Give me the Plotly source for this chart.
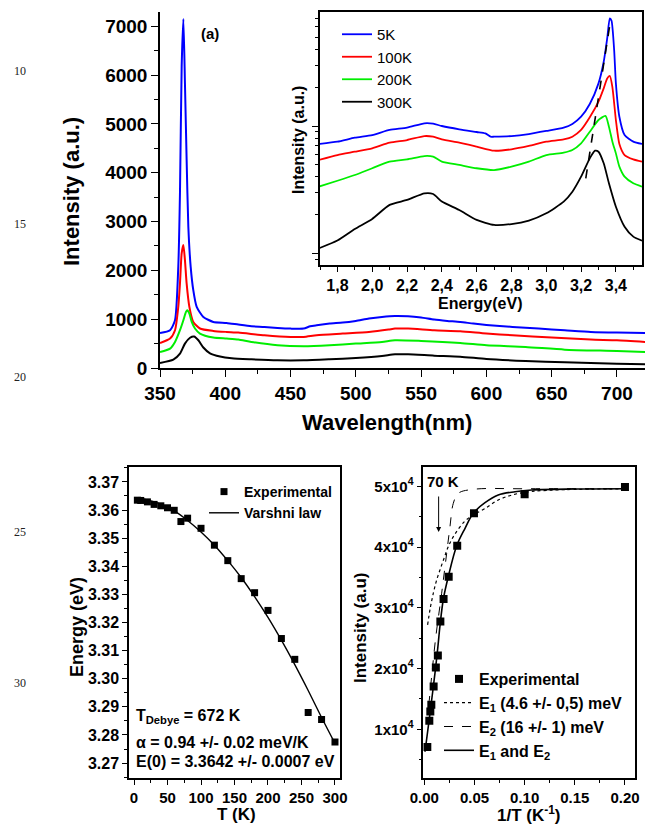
import plotly.graph_objects as go

# ---------------- (a) PL spectra vs wavelength ----------------
wl_5K = [350, 357.7, 361.5, 364.0, 365.3, 366.6, 367.9, 369.1, 370.4, 371.7, 373.5, 375.5, 378.1, 383.2,
         390.8, 401, 410, 420, 430, 440, 450, 460, 465, 470, 480, 490, 500, 510, 520, 530, 540, 550,
         560, 570, 580, 590, 600, 620, 640, 660, 680, 700, 722]
pl_5K = [718, 774, 979, 2073, 3580, 6180, 7150, 5838, 4264, 2895, 2073, 1595, 1252, 1047,
         944, 924, 890, 855, 842, 821, 807, 807, 855, 876, 910, 930, 965, 1013, 1047, 1067, 1060, 1033,
         992, 965, 944, 910, 883, 842, 807, 773, 739, 725, 718]

wl_100K = [350, 357.7, 361.5, 364.0, 365.3, 366.6, 367.9, 369.1, 370.4, 372.5, 375.5, 380.6, 390.8, 401,
           410, 430, 450, 460, 470, 490, 510, 525, 530, 540, 560, 580, 600, 620, 650, 680, 700, 722]
pl_100K = [513, 603, 774, 1252, 1732, 2348, 2519, 2211, 1732, 1252, 944, 809, 760, 739,
           725, 671, 636, 636, 671, 705, 739, 787, 807, 807, 773, 753, 705, 671, 623, 582, 568, 534]

wl_200K = [350, 357.7, 361.5, 365.3, 367.9, 369.9, 370.9, 372.5, 374.3, 376.8, 380.6, 390.8, 401,
           410, 420, 440, 460, 480, 500, 520, 530, 550, 580, 600, 630, 660, 700, 722]
pl_200K = [328, 398, 534, 774, 979, 1150, 1185, 1116, 944, 809, 706, 624, 603,
           582, 534, 465, 445, 465, 500, 534, 568, 554, 513, 465, 431, 376, 349, 328]

wl_300K = [350, 360.2, 365.3, 369.1, 373.0, 376.1, 379.4, 383.2, 388.3, 396, 405, 420, 440, 460, 480,
           500, 520, 530, 540, 560, 580, 600, 630, 660, 700, 722]
pl_300K = [103, 171, 294, 500, 620, 645, 568, 420, 300, 235, 200, 178, 157, 157, 178,
           205, 246, 281, 281, 253, 233, 185, 144, 116, 89, 75]

# ---------------- inset: spectra vs energy (log intensity) ----------------
ev_5K = [1.693, 1.8, 1.9, 2.0, 2.1, 2.2, 2.3, 2.35, 2.4, 2.5, 2.6, 2.65, 2.68, 2.7, 2.8, 2.9, 3.0, 3.1,
         3.15, 3.2, 3.25, 3.3, 3.33, 3.35, 3.365, 3.375, 3.39, 3.4, 3.42, 3.45, 3.5, 3.55]
in_5K = [7228, 7534, 8091, 8492, 9311, 9705, 10495, 10423, 10000, 9419, 8974, 8750, 8241, 8241, 8337,
         8650, 9141, 9705, 10375, 11830, 14894, 21627, 31989, 48753, 70146, 67143, 39537, 21627, 11830,
         8492, 7534, 7228]

ev_100K = [1.693, 1.8, 1.9, 2.0, 2.1, 2.2, 2.3, 2.35, 2.4, 2.5, 2.6, 2.7, 2.8, 2.9, 3.0, 3.1, 3.15, 3.2,
           3.25, 3.3, 3.33, 3.35, 3.365, 3.38, 3.4, 3.42, 3.45, 3.5, 3.55]
in_100K = [5408, 5916, 6281, 6683, 7396, 7762, 8337, 8241, 7852, 7396, 6887, 6397, 6561, 6966, 7534,
           7852, 8241, 9311, 11695, 15524, 19770, 23659, 24717, 20137, 11143, 7228, 5916, 5470, 5248]

ev_200K = [1.693, 1.8, 1.9, 2.0, 2.1, 2.2, 2.3, 2.35, 2.4, 2.5, 2.6, 2.7, 2.8, 2.9, 3.0, 3.1, 3.15, 3.2,
           3.25, 3.3, 3.34, 3.36, 3.38, 3.4, 3.42, 3.45, 3.5, 3.55]
in_200K = [3342, 3715, 4121, 4656, 5248, 5470, 5808, 5741, 5248, 4943, 4656, 4508, 4797, 5248, 5916,
           6180, 6486, 7311, 9016, 11143, 11995, 9886, 7534, 6095, 4797, 3999, 3548, 3342]

ev_300K = [1.693, 1.8, 1.9, 2.0, 2.1, 2.2, 2.3, 2.35, 2.4, 2.5, 2.6, 2.7, 2.8, 2.9, 3.0, 3.1, 3.15, 3.2,
           3.25, 3.28, 3.3, 3.33, 3.36, 3.4, 3.45, 3.5, 3.55]
in_300K = [1094, 1259, 1549, 1862, 2399, 2624, 2958, 2924, 2547, 2188, 1828, 1671, 1698, 1807, 2061,
           2547, 3048, 3999, 5572, 6397, 6281, 5093, 3548, 2323, 1618, 1352, 1256]

peak_ev = [3.227, 3.371]
peak_in = [3882, 70146]

# ---------------- Varshni plot ----------------
T_exp = [5, 10, 20, 30, 40, 50, 60, 70, 80, 100, 120, 140, 160, 180, 200, 220, 240, 260, 280, 300]
E_exp = [3.3635, 3.3634, 3.3629, 3.3620, 3.3615, 3.3608, 3.3599, 3.3559, 3.3571, 3.3535, 3.3475,
         3.3420, 3.3356, 3.3306, 3.3243, 3.3143, 3.3069, 3.2880, 3.2855, 3.2775]
T_fit = [5, 20, 40, 60, 80, 100, 120, 140, 160, 180, 200, 220, 240, 260, 280, 300]
E_fit = [3.3642, 3.3636, 3.3621, 3.3597, 3.3563, 3.3522, 3.3475, 3.3420, 3.3360, 3.3292, 3.3218,
         3.3137, 3.3050, 3.2958, 3.2862, 3.2770]

# ---------------- Arrhenius plot ----------------
invT_exp = [0.0030, 0.0050, 0.0060, 0.0070, 0.0093, 0.0115, 0.0135, 0.0160, 0.0192, 0.0243, 0.0328,
            0.0495, 0.1000, 0.2000]
I_exp = [7070, 11400, 12930, 14030, 17040, 20165, 22140, 27730, 31460, 35130, 40230, 45560, 48680, 49900]
fit_both_x = [0.0007, 0.0047, 0.0067, 0.009, 0.0113, 0.0135, 0.0156, 0.019, 0.0239, 0.0323, 0.0406,
              0.0488, 0.0605, 0.0737, 0.0904, 0.107, 0.15, 0.2]
fit_both_y = [6300, 11370, 14000, 17010, 20140, 23500, 27000, 31450, 35120, 40220, 43090, 45560,
              47300, 48570, 49110, 49390, 49550, 49600]
fit_E2_x = [0.0045, 0.0075, 0.0113, 0.0173, 0.0223, 0.0256, 0.0289, 0.0339, 0.0488, 0.1, 0.2]
fit_E2_y = [14000, 19000, 25000, 32400, 38980, 43360, 47200, 48850, 49500, 49600, 49600]
fit_E1_x = [0.0033, 0.006, 0.009, 0.012, 0.0156, 0.02, 0.0239, 0.03, 0.04, 0.0488, 0.06, 0.0738,
            0.09, 0.107, 0.14, 0.2]
fit_E1_y = [27200, 30000, 32400, 34400, 36230, 38300, 40070, 42000, 44200, 45280, 46300, 47750,
            48680, 49150, 49450, 49600]

inset_ticks = [1.8, 2.0, 2.2, 2.4, 2.6, 2.8, 3.0, 3.2, 3.4]
inset_ticktext = ["1,8", "2,0", "2,2", "2,4", "2,6", "2,8", "3,0", "3,2", "3,4"]
arr_ticks = [10000, 20000, 30000, 40000, 50000]
arr_ticktext = ["1x10<sup>4</sup>", "2x10<sup>4</sup>", "3x10<sup>4</sup>", "4x10<sup>4</sup>", "5x10<sup>4</sup>"]
line_numbers = ["10", "15", "20", "25", "30"]

FONT = "Liberation Sans, Arial, sans-serif"
W, H = 645, 833
BLUE, RED, GREEN, BLACK = "#0000ff", "#ff0000", "#00ee00", "#000000"


def px(x):
    return x / W


def py(y):
    return 1 - y / H


fig = go.Figure()

# main spectra
for wl, pl, c in [(wl_5K, pl_5K, BLUE), (wl_100K, pl_100K, RED), (wl_200K, pl_200K, GREEN), (wl_300K, pl_300K, BLACK)]:
    fig.add_trace(go.Scatter(x=wl, y=pl, mode="lines", line=dict(color=c, width=2, shape="spline", smoothing=0.6),
                             showlegend=False, xaxis="x", yaxis="y"))

# inset spectra
for ev, iv, c, name in [(ev_5K, in_5K, BLUE, "5K"), (ev_100K, in_100K, RED, "100K"),
                        (ev_200K, in_200K, GREEN, "200K"), (ev_300K, in_300K, BLACK, "300K")]:
    fig.add_trace(go.Scatter(x=ev, y=iv, mode="lines", name=name,
                             line=dict(color=c, width=1.8, shape="spline", smoothing=0.6),
                             xaxis="x2", yaxis="y2", legend="legend"))
fig.add_trace(go.Scatter(x=peak_ev, y=peak_in, mode="lines", line=dict(color=BLACK, width=1.6, dash="dash"),
                         showlegend=False, xaxis="x2", yaxis="y2"))

# Varshni
fig.add_trace(go.Scatter(x=T_fit, y=E_fit, mode="lines", name="Varshni law", line=dict(color=BLACK, width=1.4, shape="spline"),
                         xaxis="x3", yaxis="y3", legend="legend2", legendrank=2))
fig.add_trace(go.Scatter(x=T_exp, y=E_exp, mode="markers", name="Experimental",
                         marker=dict(symbol="square", size=7, color=BLACK),
                         xaxis="x3", yaxis="y3", legend="legend2", legendrank=1))

# Arrhenius
fig.add_trace(go.Scatter(x=fit_E1_x, y=fit_E1_y, mode="lines", name="E<sub>1</sub> (4.6 +/- 0,5) meV",
                         line=dict(color=BLACK, width=1.2, dash="dot", shape="spline"),
                         xaxis="x4", yaxis="y4", legend="legend3", legendrank=2))
fig.add_trace(go.Scatter(x=fit_E2_x, y=fit_E2_y, mode="lines", name="E<sub>2</sub> (16 +/- 1) meV",
                         line=dict(color=BLACK, width=1.0, dash="dash", shape="spline"),
                         xaxis="x4", yaxis="y4", legend="legend3", legendrank=3))
fig.add_trace(go.Scatter(x=fit_both_x, y=fit_both_y, mode="lines", name="E<sub>1</sub> and E<sub>2</sub>",
                         line=dict(color=BLACK, width=1.6, shape="spline"),
                         xaxis="x4", yaxis="y4", legend="legend3", legendrank=4))
fig.add_trace(go.Scatter(x=invT_exp, y=I_exp, mode="markers", name="Experimental",
                         marker=dict(symbol="square", size=8, color=BLACK),
                         xaxis="x4", yaxis="y4", legend="legend3", legendrank=1))

axis_common = dict(showgrid=False, zeroline=False, showline=True, linecolor=BLACK, linewidth=1.5,
                   ticks="outside", tickcolor=BLACK, tickwidth=1.3, automargin=False)


def minor(dtick, tick0=0, length=3):
    return dict(ticks="outside", ticklen=length, tickcolor=BLACK, tickwidth=1.1, dtick=dtick, tick0=tick0, showgrid=False)


fig.update_layout(
    width=W, height=H, margin=dict(l=0, r=0, t=0, b=0, pad=0, autoexpand=False),
    paper_bgcolor="white", plot_bgcolor="rgba(0,0,0,0)",
    font=dict(family=FONT, color=BLACK, size=14, weight="bold"),
    xaxis=dict(**axis_common, domain=[px(160), 1.0], range=[350, 721.5], anchor="y",
               tickmode="linear", tick0=350, dtick=50, ticklen=7, minor=minor(25, 350, 4),
               tickfont=dict(size=19, family=FONT, weight="bold")),
    yaxis=dict(**axis_common, domain=[py(368), py(11.7)], range=[0, 7300], anchor="x",
               tickmode="linear", tick0=0, dtick=1000, ticklen=7, minor=minor(500, 0, 4),
               tickfont=dict(size=19, family=FONT, weight="bold")),
    xaxis2=dict(**axis_common, mirror=True, domain=[px(320), px(642)], range=[1.7, 3.55], anchor="y2",
                tickmode="array", tickvals=inset_ticks, ticktext=inset_ticktext, ticklen=5,
                minor=minor(0.1, 1.7, 3), tickfont=dict(size=16, family=FONT, weight="bold")),
    yaxis2=dict(**axis_common, mirror=True, domain=[py(265), py(11.7)], type="log", range=[2.908, 4.898],
                anchor="x2", showticklabels=False, ticklen=6, dtick=1,
                minor=dict(ticks="outside", ticklen=3, tickcolor=BLACK, tickwidth=1.1, dtick="D1")),
    xaxis3=dict(**axis_common, mirror=True, domain=[px(129), px(340)], range=[-7.5, 307.5], anchor="y3",
                tickmode="linear", tick0=0, dtick=50, ticklen=5, minor=minor(25, 0, 3),
                tickfont=dict(size=15, family=FONT, weight="bold")),
    yaxis3=dict(**axis_common, mirror=True, domain=[py(778), py(467)], range=[3.2647, 3.3753], anchor="x3",
                tickmode="linear", tick0=3.27, dtick=0.01, tickformat=".2f", ticklen=5,
                minor=minor(0.005, 3.27, 3), tickfont=dict(size=16, family=FONT, weight="bold")),
    xaxis4=dict(**axis_common, mirror=True, domain=[px(423.3), px(635)], range=[-0.001, 0.21], anchor="y4",
                tickmode="linear", tick0=0, dtick=0.05, tickformat=".2f", ticklen=5,
                minor=minor(0.025, 0, 3), tickfont=dict(size=15, family=FONT, weight="bold")),
    yaxis4=dict(**axis_common, mirror=True, domain=[py(778), py(467)], range=[1980, 53180], anchor="x4",
                tickmode="array", tickvals=arr_ticks, ticktext=arr_ticktext, ticklen=5,
                minor=minor(5000, 0, 3), tickfont=dict(size=15, family=FONT, weight="bold")),
    legend=dict(x=px(337), y=py(18), xanchor="left", yanchor="top", bgcolor="rgba(0,0,0,0)",
                font=dict(size=15, family=FONT, weight="normal"), tracegroupgap=0, itemwidth=30),
    legend2=dict(x=px(204), y=py(476), xanchor="left", yanchor="top", bgcolor="rgba(0,0,0,0)",
                 font=dict(size=14, family=FONT, weight="bold"), tracegroupgap=0, itemwidth=30),
    legend3=dict(x=px(439), y=py(662), xanchor="left", yanchor="top", bgcolor="rgba(0,0,0,0)",
                 font=dict(size=16, family=FONT, weight="bold"), tracegroupgap=0, itemwidth=30),
)

ann = []


def text(x, y, s, size, angle=0, xanchor="center", yanchor="middle", weight="bold", family=FONT, color=BLACK):
    ann.append(dict(x=px(x), y=py(y), xref="paper", yref="paper", text=s, showarrow=False, textangle=angle,
                    xanchor=xanchor, yanchor=yanchor, font=dict(size=size, family=family, weight=weight, color=color)))


text(72, 192, "Intensity (a.u.)", 22, angle=-90)
text(387, 423, "Wavelength(nm)", 22)
text(210, 33, "(a)", 15)
text(298, 140, "Intensity (a.u.)", 16, angle=-90)
text(480, 303, "Energy(eV)", 16)
text(77, 627, "Energy (eV)", 18, angle=-90)
text(236, 814, "T (K)", 17)
text(360, 628, "Intensity (a.u)", 17, angle=-90)
text(528, 814, "1/T (K<sup>-1</sup>)", 17)
text(134, 716, "T<sub>Debye</sub> = 672 K", 16, xanchor="left")
text(134, 742, "α = 0.94 +/- 0.02 meV/K", 16, xanchor="left")
text(134, 761, "E(0) = 3.3642 +/- 0.0007 eV", 16, xanchor="left")
for s, yy in zip(line_numbers, [71, 224, 377, 532, 683]):
    text(20, yy, s, 12, weight="normal", family="Liberation Serif, serif", color="#222222")

# 70 K arrow
ann.append(dict(x=1 / 70, y=42480, xref="x4", yref="y4", ax=0, ay=-37, text="", showarrow=True,
                arrowhead=2, arrowsize=1, arrowwidth=1, arrowcolor=BLACK))
ann.append(dict(x=0.0186, y=50870, xref="x4", yref="y4", text="70 K", showarrow=False,
                font=dict(size=15, family=FONT, weight="bold")))

fig.update_layout(annotations=ann)
fig.write_html("out.html", config={"displayModeBar": False},
               post_script="document.body.style.margin='0';document.body.style.overflow='hidden';")
